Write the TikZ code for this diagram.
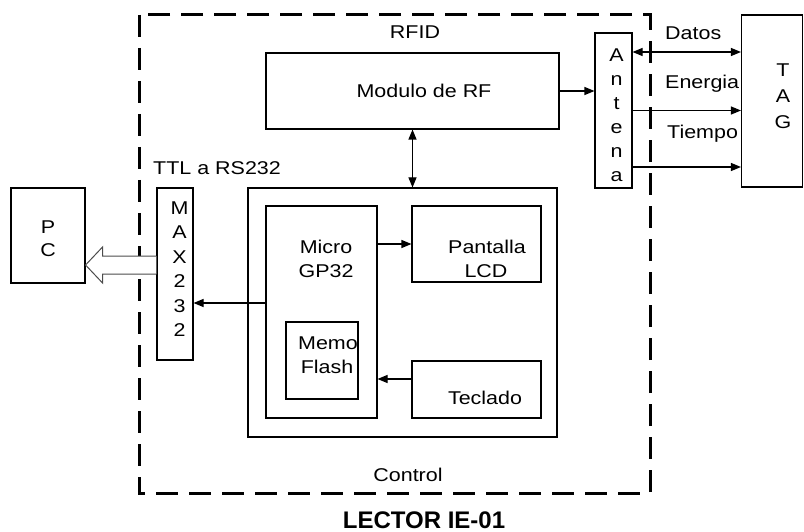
\documentclass[tikz,border=0pt]{standalone}
\usepackage{fontspec}
\setmainfont[FakeStretch=1.16]{Liberation Sans}
\newfontfamily\titlefont{Liberation Sans}
\usetikzlibrary{arrows.meta,calc}
\begin{document}
\begin{tikzpicture}[x=1pt,y=-1pt,
  box/.style={draw=black,line width=1.1pt,inner sep=0pt,minimum width=#1},
  txt/.style={font=\fontsize{18.5}{20}\selectfont,inner sep=0pt,anchor=base},
  ltxt/.style={font=\fontsize{18.5}{20}\selectfont,inner sep=0pt,anchor=base west},
  conn/.style={line width=1.1pt,-{Triangle[length=10pt,width=8pt]}},
  dconn/.style={line width=1.1pt,{Triangle[length=10pt,width=8pt]}-{Triangle[length=10pt,width=8pt]}},
  border/.style={line width=3pt,dash pattern=on 22pt off 11pt}]
\useasboundingbox (0,0) rectangle (804,532);
% outer dashed border
\draw[border] (139,15) rectangle (650,493);
% boxes
\node[box=293pt,minimum height=76pt] (mod) at (412.5,91) {};
\node[box=309pt,minimum height=249pt] (ctrl) at (402.5,312.5) {};
\node[box=111pt,minimum height=212pt] (micro) at (321.5,312) {};
\node[box=129pt,minimum height=76pt] (pant) at (476.5,244) {};
\node[box=72pt,minimum height=77pt] (memo) at (322,360.5) {};
\node[box=129pt,minimum height=57pt] (tec) at (476.5,389.5) {};
\node[box=36pt,minimum height=172pt] (max) at (175,274) {};
\node[box=74pt,minimum height=95pt] (pc) at (48,235.5) {};
\node[box=37pt,minimum height=155pt] (ant) at (613.5,110.5) {};
\node[box=61pt,minimum height=172pt] (tag) at (772,101) {};
% texts
\node[txt] (trfid) at (415,39) {RFID};
\node[txt] (tmod) at (424,97.5) {Modulo de RF};
\node[ltxt] (tttl) at (153,174.5) {TTL a RS232};
\node[txt] (tmicro1) at (326,253.5) {Micro};
\node[txt] (tmicro2) at (326,277.5) {GP32};
\node[txt] (tpant1) at (487,253.5) {Pantalla};
\node[txt] (tpant2) at (486,277.5) {LCD};
\node[txt] (tmemo1) at (328,349.5) {Memo};
\node[txt] (tmemo2) at (327,373.5) {Flash};
\node[txt] (ttec) at (485,404.5) {Teclado};
\node[txt] (tctrl) at (408,481.5) {Control};
\node[ltxt] (tdatos) at (665,39.5) {Datos};
\node[ltxt] (tener) at (665,88.5) {Energia};
\node[ltxt] (ttiem) at (667,138.5) {Tiempo};
\node[txt] (tp) at (48,233.5) {P};
\node[txt] (tc) at (48,256.5) {C};
\foreach \ch [count=\i] in {M,A,X,2,3,2}
  \node[txt] (tmax\i) at (179.5,{214.5+24.4*(\i-1)}) {\ch};
\foreach \ch [count=\i] in {A,n,t,e,n,a}
  \node[txt] (tant\i) at (616.5,{61.5+24.1*(\i-1)}) {\ch};
\foreach \ch [count=\i] in {T,A,G}
  \node[txt] (ttag\i) at (783,{76.5+26*(\i-1)}) {\ch};
\node[font=\titlefont\bfseries\fontsize{24}{26}\selectfont,inner sep=0pt,anchor=base] (title) at (424,528) {LECTOR IE-01};
% connectors
\draw[dconn] (mod.south) -- (mod.south |- ctrl.north);
\draw[conn] (mod.east) -- (ant.west |- mod.east);
\draw[dconn] ([yshift=58.5pt]ant.east) -- ([yshift=58.5pt]ant.east -| tag.west);
\draw[conn] (ant.east) -- (ant.east -| tag.west);
\draw[conn] ([yshift=-56.5pt]ant.east) -- ([yshift=-56.5pt]ant.east -| tag.west);
\draw[conn] (micro.east |- pant.west) -- (pant.west);
\draw[conn] ([yshift=10.5pt]tec.west) -- ([yshift=10.5pt]tec.west -| micro.east);
\draw[conn] ([yshift=9pt]micro.west) -- ([yshift=9pt]micro.west -| max.east);
% hollow arrow MAX -> PC
\coordinate (ha) at ([yshift=9pt]max.west);
\coordinate (hb) at ([yshift=9pt]max.west -| pc.east);
\draw[line width=1pt,fill=white,draw=black!70]
  ($(ha)+(0,-9)$) -- ($(hb)+(17,-9)$) -- ($(hb)+(17,-18)$) -- (hb)
  -- ($(hb)+(17,18)$) -- ($(hb)+(17,9)$) -- ($(ha)+(0,9)$);
\end{tikzpicture}
\end{document}
